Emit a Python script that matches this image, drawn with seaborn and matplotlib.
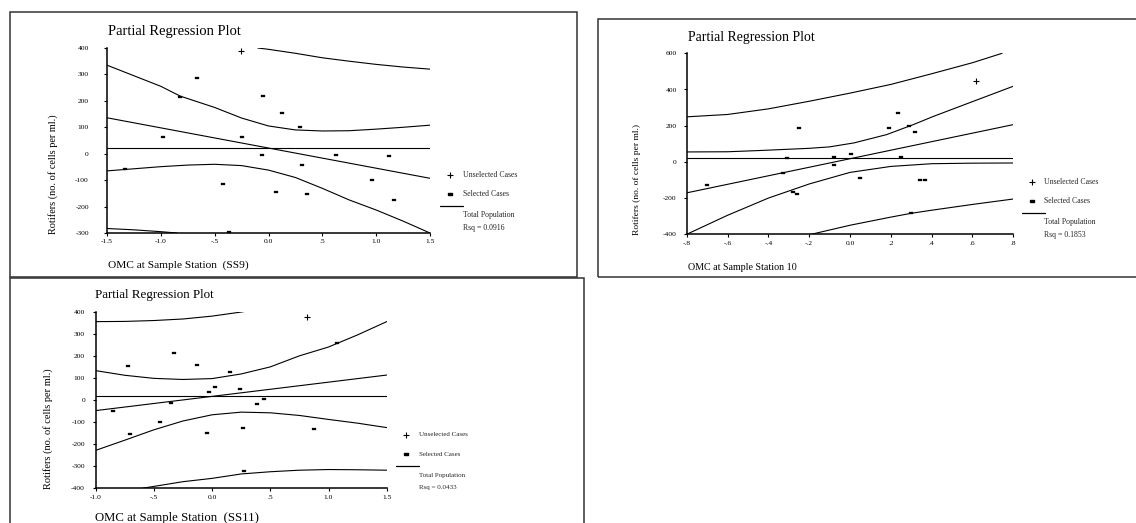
import matplotlib
matplotlib.use("Agg")
import matplotlib.pyplot as plt
import seaborn as sns
from matplotlib.patches import Rectangle
from matplotlib.lines import Line2D

sns.set_theme(style="white")
plt.rcParams['font.family'] = ['Liberation Serif', 'DejaVu Serif']

# ---------------- DATA ----------------
title_text = "Partial Regression Plot"
ylabel_text = "Rotifers (no. of cells per ml.)"
legend_labels = ["Unselected Cases", "Selected Cases", "Total Population"]

# Panel 1 (SS9)
p1_xlabel = "OMC at Sample Station  (SS9)"
p1_rsq = "Rsq = 0.0916"
p1_xticks = [-1.5, -1.0, -0.5, 0.0, 0.5, 1.0, 1.5]
p1_xticklabels = ["-1.5", "-1.0", "-.5", "0.0", ".5", "1.0", "1.5"]
p1_yticks = [-300, -200, -100, 0, 100, 200, 300, 400]
p1_sel_x = [-1.33, -0.98, -0.82, -0.66, -0.42, -0.37, -0.25, -0.05, -0.06, 0.07, 0.13, 0.29, 0.31, 0.36, 0.63, 0.96, 1.12, 1.17]
p1_sel_y = [-57, 62, 215, 287, -116, -297, 65, 218, -3, -145, 155, 102, -43, -153, -3, -101, -10, -175]
p1_unsel_x = [-0.26]
p1_unsel_y = [388]
p1_mean = 23
p1_fit_x = [-1.5, 1.5]
p1_fit_y = [136, -93]
p1_cim_up_x = [-1.5, -1.25, -1.0, -0.82, -0.5, -0.25, 0.0, 0.25, 0.5, 0.75, 1.0, 1.25, 1.5]
p1_cim_up_y = [335, 295, 255, 218, 175, 135, 105, 90, 86, 87, 93, 100, 108]
p1_cim_lo_x = [-1.5, -1.25, -1.0, -0.75, -0.5, -0.25, 0.0, 0.25, 0.5, 0.75, 1.0, 1.25, 1.5]
p1_cim_lo_y = [-65, -57, -49, -43, -40, -45, -62, -90, -131, -175, -213, -255, -300]
p1_cii_up_x = [-0.1, 0.0, 0.25, 0.5, 0.75, 1.0, 1.25, 1.5]
p1_cii_up_y = [400, 395, 380, 363, 350, 338, 328, 320]
p1_cii_lo_x = [-1.5, -1.25, -1.0, -0.85]
p1_cii_lo_y = [-283, -288, -295, -300]

# Panel 2 (Station 10)
p2_xlabel = "OMC at Sample Station 10"
p2_rsq = "Rsq = 0.1853"
p2_xticks = [-0.8, -0.6, -0.4, -0.2, 0.0, 0.2, 0.4, 0.6, 0.8]
p2_xticklabels = ["-.8", "-.6", "-.4", "-.2", "0.0", ".2", ".4", ".6", ".8"]
p2_yticks = [-400, -200, 0, 200, 400, 600]
p2_sel_x = [-0.70, -0.25, -0.31, -0.33, -0.28, -0.26, -0.08, -0.08, 0.005, 0.05, 0.19, 0.235, 0.29, 0.32, 0.25, 0.345, 0.367, 0.30]
p2_sel_y = [-127, 188, 22, -64, -164, -177, 26, -15, 46, -90, 188, 271, 201, 164, 29, -101, -98, -280]
p2_unsel_x = [0.615]
p2_unsel_y = [447]
p2_mean = 24
p2_fit_x = [-0.8, 0.8]
p2_fit_y = [-171, 206]
p2_cim_up_x = [-0.8, -0.6, -0.44, -0.2, -0.1, 0.02, 0.18, 0.31, 0.41, 0.6, 0.8]
p2_cim_up_y = [55, 56, 63, 75, 83, 105, 151, 206, 252, 333, 418]
p2_cim_lo_x = [-0.8, -0.6, -0.4, -0.2, 0.0, 0.2, 0.4, 0.6, 0.8]
p2_cim_lo_y = [-400, -295, -200, -122, -58, -25, -10, -7, -6]
p2_cii_up_x = [-0.8, -0.6, -0.4, -0.2, 0.0, 0.2, 0.4, 0.6, 0.745]
p2_cii_up_y = [249, 262, 293, 335, 380, 428, 487, 548, 600]
p2_cii_lo_x = [-0.19, 0.0, 0.2, 0.3, 0.4, 0.6, 0.8]
p2_cii_lo_y = [-400, -350, -305, -284, -267, -235, -205]

# Panel 3 (SS11)
p3_xlabel = "OMC at Sample Station  (SS11)"
p3_rsq = "Rsq = 0.0433"
p3_xticks = [-1.0, -0.5, 0.0, 0.5, 1.0, 1.5]
p3_xticklabels = ["-1.0", "-.5", "0.0", ".5", "1.0", "1.5"]
p3_yticks = [-400, -300, -200, -100, 0, 100, 200, 300, 400]
p3_sel_x = [-0.725, -0.85, -0.705, -0.444, -0.353, -0.324, -0.132, -0.041, -0.023, 0.025, 0.154, 0.24, 0.269, 0.27, 0.386, 0.446, 0.876, 1.076]
p3_sel_y = [154, -50, -154, -101, -12, 214, 158, -148, 36, 60, 125, 48, -125, -320, -18, 5, -131, 257]
p3_unsel_x = [0.813]
p3_unsel_y = [377]
p3_mean = 18
p3_fit_x = [-1.0, 1.5]
p3_fit_y = [-48, 113]
p3_cim_up_x = [-1.0, -0.75, -0.5, -0.25, 0.0, 0.25, 0.5, 0.75, 1.0, 1.25, 1.5]
p3_cim_up_y = [133, 112, 98, 93, 97, 118, 150, 200, 240, 295, 355]
p3_cim_lo_x = [-1.0, -0.75, -0.5, -0.25, 0.0, 0.25, 0.5, 0.75, 1.0, 1.25, 1.5]
p3_cim_lo_y = [-228, -182, -135, -95, -67, -55, -58, -70, -88, -105, -125]
p3_cii_up_x = [-1.0, -0.75, -0.5, -0.25, 0.0, 0.27]
p3_cii_up_y = [355, 356, 360, 367, 380, 400]
p3_cii_lo_x = [-0.6, -0.25, 0.0, 0.25, 0.5, 0.75, 1.0, 1.25, 1.5]
p3_cii_lo_y = [-400, -370, -355, -335, -325, -318, -315, -316, -318]

# ---------------- LAYOUT ----------------
W, H = 1136, 523
fig = plt.figure(figsize=(W / 100, H / 100), dpi=100)
fig.patch.set_facecolor("white")


def fx(px):
    return px / W


def fy(py):
    return 1 - py / H


sel_marker = [(-1, -0.55), (1, -0.55), (1, 0.55), (-1, 0.55), (-1, -0.55)]

panels = [
    dict(frame=(10, 12, 577, 277), ax=(107, 48, 430, 233), xlim=(-1.5, 1.5), ylim=(-300, 400),
         xticks=p1_xticks, xtl=p1_xticklabels, yticks=p1_yticks, ypad=10.5,
         sel=(p1_sel_x, p1_sel_y), unsel=(p1_unsel_x, p1_unsel_y), mean=p1_mean,
         lines=[(p1_fit_x, p1_fit_y), (p1_cim_up_x, p1_cim_up_y), (p1_cim_lo_x, p1_cim_lo_y),
                (p1_cii_up_x, p1_cii_up_y), (p1_cii_lo_x, p1_cii_lo_y)],
         title_pos=(108, 32), title_fs=10.5, ylab_x=53, ylab_fs=7.4,
         xlab=p1_xlabel, xlab_pos=(108, 265), xlab_fs=8.2,
         leg=(450, 175), leg_fs=5.6, rsq=p1_rsq),
    dict(frame=(598, 19, 1140, 277), ax=(686.7, 53.3, 1013.3, 234.3), xlim=(-0.8, 0.8), ylim=(-400, 600),
         xticks=p2_xticks, xtl=p2_xticklabels, yticks=p2_yticks, ypad=4.7,
         sel=(p2_sel_x, p2_sel_y), unsel=(p2_unsel_x, p2_unsel_y), mean=p2_mean,
         lines=[(p2_fit_x, p2_fit_y), (p2_cim_up_x, p2_cim_up_y), (p2_cim_lo_x, p2_cim_lo_y),
                (p2_cii_up_x, p2_cii_up_y), (p2_cii_lo_x, p2_cii_lo_y)],
         title_pos=(688, 37), title_fs=9.9, ylab_x=637, ylab_fs=6.8,
         xlab=p2_xlabel, xlab_pos=(688, 267), xlab_fs=7.2,
         leg=(1031.5, 182.3), leg_fs=5.6, rsq=p2_rsq),
    dict(frame=(10, 278, 584, 530), ax=(95.7, 311.7, 386.7, 488.3), xlim=(-1.0, 1.5), ylim=(-400, 400),
         xticks=p3_xticks, xtl=p3_xticklabels, yticks=p3_yticks, ypad=5.2,
         sel=(p3_sel_x, p3_sel_y), unsel=(p3_unsel_x, p3_unsel_y), mean=p3_mean,
         lines=[(p3_fit_x, p3_fit_y), (p3_cim_up_x, p3_cim_up_y), (p3_cim_lo_x, p3_cim_lo_y),
                (p3_cii_up_x, p3_cii_up_y), (p3_cii_lo_x, p3_cii_lo_y)],
         title_pos=(95, 295), title_fs=9.4, ylab_x=48, ylab_fs=7.5,
         xlab=p3_xlabel, xlab_pos=(95, 518), xlab_fs=9.2,
         leg=(406, 435), leg_fs=5.0, rsq=p3_rsq),
]

for p in panels:
    l, t, r, b = p["frame"]
    fig.add_artist(Rectangle((fx(l), fy(b)), (r - l) / W, (b - t) / H, transform=fig.transFigure,
                             fill=False, edgecolor="#333333", linewidth=1.1))

    al, at, ar, ab = p["ax"]
    ax = fig.add_axes([fx(al), fy(ab), (ar - al) / W, (ab - at) / H])
    ax.set_facecolor("white")
    ax.set_xlim(*p["xlim"])
    ax.set_ylim(*p["ylim"])

    # horizontal mean line
    sns.lineplot(x=list(p["xlim"]), y=[p["mean"], p["mean"]], ax=ax, color="black",
                 linewidth=0.8, estimator=None, sort=False)
    for lx, ly in p["lines"]:
        sns.lineplot(x=lx, y=ly, ax=ax, color="black", linewidth=0.8, estimator=None, sort=False)

    sns.scatterplot(x=p["sel"][0], y=p["sel"][1], ax=ax, marker=sel_marker, s=11,
                    color="black", edgecolor="black", linewidth=0.2, zorder=5)
    sns.scatterplot(x=p["unsel"][0], y=p["unsel"][1], ax=ax, marker="+", s=22,
                    color="black", edgecolor="black", linewidth=0.8, zorder=5)

    for side in ["top", "right"]:
        ax.spines[side].set_visible(False)
    for side in ["left", "bottom"]:
        ax.spines[side].set_color("black")
        ax.spines[side].set_linewidth(1.1)
    ax.set_xticks(p["xticks"])
    ax.set_xticklabels(p["xtl"])
    ax.set_yticks(p["yticks"])
    ax.set_yticklabels([str(v) for v in p["yticks"]])
    ax.tick_params(axis="both", which="both", direction="out", length=2.5, width=0.8,
                   colors="black", labelsize=5.4, left=True, bottom=True)
    ax.tick_params(axis="y", pad=p["ypad"])
    ax.tick_params(axis="x", pad=2)
    ax.grid(False)
    ax.set_xlabel("")
    ax.set_ylabel("")

    # texts
    tx, ty = p["title_pos"]
    fig.text(fx(tx), fy(ty), title_text, ha="left", va="center", fontsize=p["title_fs"], color="black")
    fig.text(fx(p["ylab_x"]), fy(ab + 1), ylabel_text, ha="center", va="bottom",
             rotation=90, fontsize=p["ylab_fs"], color="black")
    xx, xy = p["xlab_pos"]
    fig.text(fx(xx), fy(xy), p["xlab"], ha="left", va="center", fontsize=p["xlab_fs"], color="black")

    # legend (manual, SPSS style)
    gx, gy = p["leg"]
    lfs = p["leg_fs"]
    fig.add_artist(Line2D([fx(gx)], [fy(gy)], marker="+", markersize=4.5, color="black",
                          markeredgewidth=0.8, linestyle="none", transform=fig.transFigure))
    fig.text(fx(gx + 13), fy(gy), legend_labels[0], ha="left", va="center", fontsize=lfs)
    fig.add_artist(Line2D([fx(gx)], [fy(gy + 19)], marker=sel_marker, markersize=3.3, color="black",
                          linestyle="none", transform=fig.transFigure))
    fig.text(fx(gx + 13), fy(gy + 19), legend_labels[1], ha="left", va="center", fontsize=lfs)
    fig.add_artist(Line2D([fx(gx - 10), fx(gx + 13)], [fy(gy + 31), fy(gy + 31)], color="black",
                          linewidth=0.9, transform=fig.transFigure))
    fig.text(fx(gx + 13), fy(gy + 40), legend_labels[2], ha="left", va="center", fontsize=lfs)
    fig.text(fx(gx + 13), fy(gy + 53), p["rsq"], ha="left", va="center", fontsize=lfs)

fig.savefig("out.png", dpi=100, facecolor="white")
